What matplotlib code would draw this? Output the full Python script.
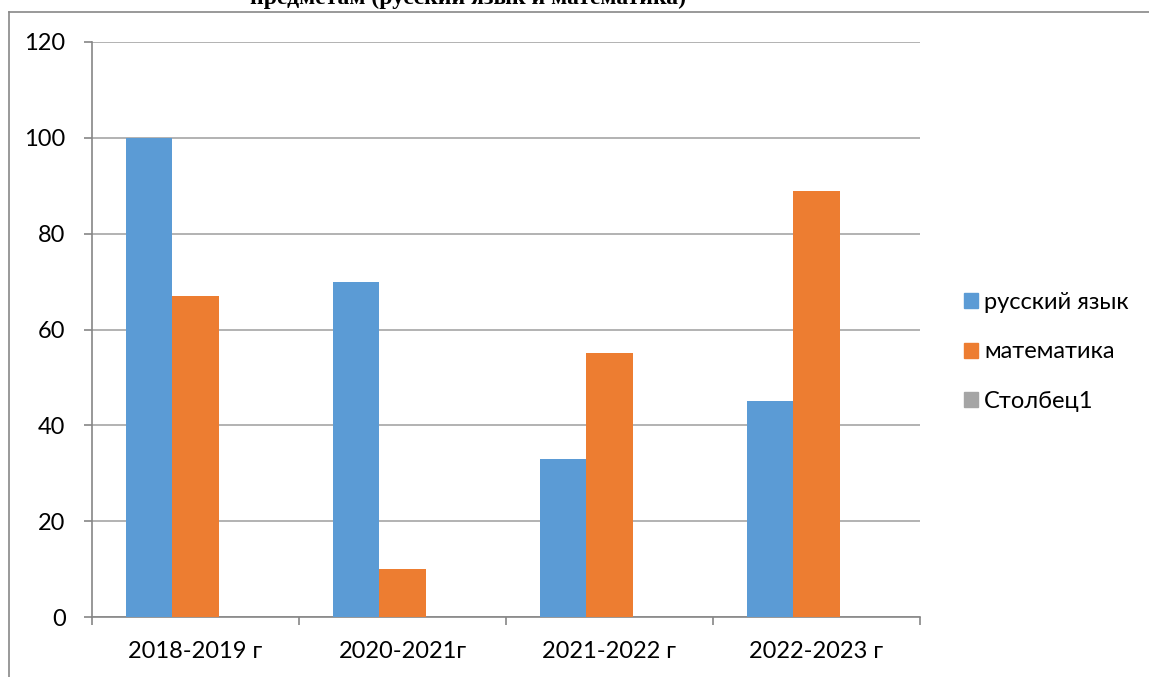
import matplotlib
matplotlib.use("Agg")
import matplotlib.pyplot as plt
from matplotlib.lines import Line2D
import numpy as np

categories = ["2018-2019 г", "2020-2021г", "2021-2022 г", "2022-2023 г"]
russian = [100, 70, 33, 45]
math = [67, 10, 55, 89]
col1 = [0, 0, 0, 0]
series_names = ["русский язык", "математика", "Столбец1"]
colors = ["#5B9BD5", "#ED7D31", "#A5A5A5"]
yticks = [0, 20, 40, 60, 80, 100, 120]
title = "предметам (русский язык и математика)"

plt.rcParams['font.family'] = ['Lato', 'DejaVu Sans']

W, H = 1149, 677
fig = plt.figure(figsize=(W / 100, H / 100), dpi=100)
ax = fig.add_axes([92 / W, 60 / H, 828 / W, 575 / H])

x = np.arange(len(categories))
bw = 0.2247
for i, (vals, name, c) in enumerate(zip([russian, math, col1], series_names, colors)):
    ax.bar(x + (i - 1) * bw, vals, width=bw, color=c, label=name, zorder=3)

fs = 17
ax.set_xlim(-0.5, len(categories) - 0.5)
ax.set_ylim(0, 120)
ax.set_yticks(yticks)
ax.set_yticklabels([str(v) for v in yticks], fontsize=fs)
ax.set_xticks(x)
ax.set_xticklabels(categories, fontsize=fs)
ax.set_xticks(np.arange(-0.5, len(categories), 1.0), minor=True)
ax.tick_params(axis='x', which='major', length=0, pad=17)
ax.tick_params(axis='x', which='minor', length=6, color='#868686', width=1.2)
ax.tick_params(axis='y', length=6, color='#868686', width=1.2, pad=13)
ax.grid(axis='y', color='#A6A6A6', linewidth=1.2, zorder=0)
for s in ['top', 'right']:
    ax.spines[s].set_visible(False)
for s in ['left', 'bottom']:
    ax.spines[s].set_color('#868686')
    ax.spines[s].set_linewidth(1.2)

handles = [plt.Rectangle((0, 0), 1, 1, color=c) for c in colors]
fig.legend(handles, series_names, loc='center left', bbox_to_anchor=(952 / W, 1 - 352 / H),
           frameon=False, fontsize=fs, handlelength=0.6, handleheight=0.6,
           handletextpad=0.25, labelspacing=1.2, borderpad=0)

# outer frame
fig.add_artist(Line2D([9 / W, 1.0], [1 - 11.5 / H, 1 - 11.5 / H], transform=fig.transFigure,
                      color='#888888', linewidth=1.2))
fig.add_artist(Line2D([9 / W, 9 / W], [1 - 11.5 / H, 0], transform=fig.transFigure,
                      color='#888888', linewidth=1.2))

fig.text(468 / W, 1 - 4 / H, title, ha='center', va='baseline',
         fontfamily='Liberation Serif', fontweight='bold', fontsize=17)

fig.savefig("out.png", dpi=100)
